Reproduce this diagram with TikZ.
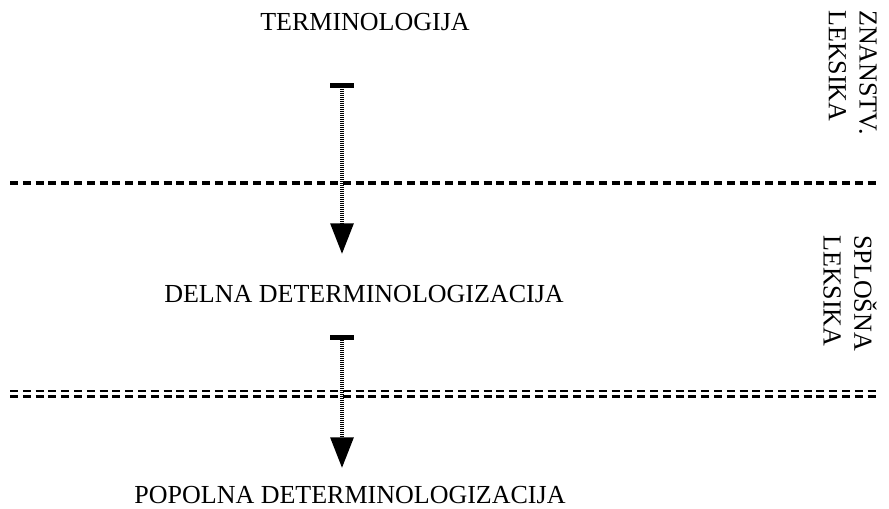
\documentclass[tikz,border=0pt]{standalone}
\usepackage{fontspec}
\setmainfont{Liberation Serif}
\usetikzlibrary{arrows.meta}

\begin{document}
\begin{tikzpicture}[x=0.75pt,y=-0.75pt,
    lbl/.style={font=\fontsize{19.5}{23}\selectfont,inner sep=0pt,anchor=base},
    side/.style={lbl,rotate=-90,align=left,anchor=north west},
    border/.style={line width=2.7pt,dash pattern=on 6pt off 3.6pt},
    thinborder/.style={line width=1.9pt,dash pattern=on 6pt off 3.6pt},
    flow/.style={line width=3pt,dash pattern=on 0.75pt off 0.75pt,
      {Bar[width=18pt,line width=3.8pt]}-{Triangle[width=17pt,length=23pt]}}]
  \useasboundingbox (0,0) rectangle (889,508);

  % levels
  \node[lbl] (term) at (365,30) {TERMINOLOGIJA};
  \node[lbl] (delna) at (364,302) {DELNA DETERMINOLOGIZACIJA};
  \node[lbl] (popolna) at (350,503) {POPOLNA DETERMINOLOGIZACIJA};

  % boundaries
  \draw[border] (10,183) -- (880,183);
  \draw[thinborder] (10,391) -- (880,391);
  \draw[thinborder] (10,396.5) -- (880,396.5);

  % lexis labels
  \node[side] (znan) at (877,10) {ZNANSTV.\\LEKSIKA};
  \node[side] (splo) at (877,235) {SPLOŠNA\\LEKSIKA};

  % arrows
  \coordinate (a1s) at (342,83);
  \coordinate (a1e) at (342,254);
  \coordinate (a2s) at (342,334.5);
  \coordinate (a2e) at (342,468);
  \draw[flow] (a1s) -- (a1e);
  \draw[flow] (a2s) -- (a2e);
\end{tikzpicture}
\end{document}
